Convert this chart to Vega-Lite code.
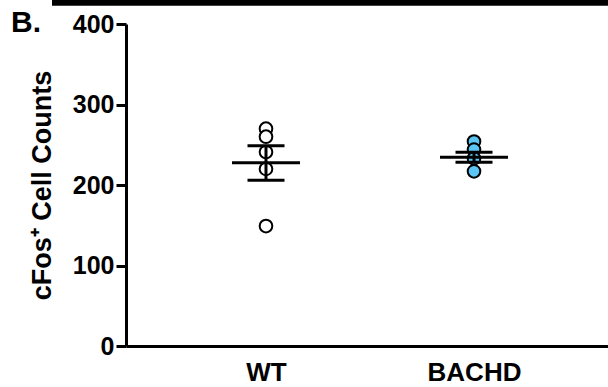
{
  "$schema": "https://vega.github.io/schema/vega-lite/v6.json",
  "width": 488,
  "height": 322,
  "autosize": "none",
  "padding": {"left": 126, "top": 24, "right": 0, "bottom": 41},
  "background": "white",
  "config": {
    "view": {"stroke": null},
    "font": "Liberation Sans",
    "axis": {
      "labelFont": "Liberation Sans",
      "titleFont": "Liberation Sans",
      "labelColor": "black",
      "titleColor": "black",
      "labelFontWeight": "bold",
      "titleFontWeight": "bold",
      "domainColor": "black",
      "domainWidth": 3,
      "tickColor": "black",
      "tickWidth": 3,
      "grid": false
    }
  },
  "title": {
    "text": "B.",
    "anchor": "start",
    "frame": "group",
    "orient": "top",
    "dx": -115,
    "dy": 29,
    "fontSize": 30,
    "fontWeight": "bold",
    "font": "Liberation Sans",
    "color": "black",
    "baseline": "alphabetic",
    "offset": -34
  },
  "datasets": {
    "points": [
      {"group": "WT", "count": 270},
      {"group": "WT", "count": 260},
      {"group": "WT", "count": 241},
      {"group": "WT", "count": 220},
      {"group": "WT", "count": 149},
      {"group": "BACHD", "count": 254},
      {"group": "BACHD", "count": 244},
      {"group": "BACHD", "count": 233},
      {"group": "BACHD", "count": 217}
    ],
    "summary": [
      {"group": "WT", "mean": 227.7, "lo": 205.8, "hi": 248.8},
      {"group": "BACHD", "mean": 234.5, "lo": 228.2, "hi": 240.6}
    ]
  },
  "encoding": {
    "x": {
      "field": "group",
      "type": "nominal",
      "sort": ["WT", "BACHD"],
      "scale": {"type": "point", "padding": 0.673},
      "axis": {
        "title": null,
        "labelAngle": 0,
        "ticks": false,
        "labelFontSize": 26,
        "labelPadding": 13
      }
    }
  },
  "layer": [
    {
      "data": {"values": [{"bar": "top"}]},
      "mark": {"type": "rule", "color": "black", "strokeWidth": 7, "clip": false},
      "encoding": {
        "x": {"value": -74},
        "x2": {"value": 490},
        "y": {"datum": 427, "type": "quantitative"}
      }
    },
    {
      "data": {"name": "points"},
      "mark": {"type": "point", "filled": true, "size": 160, "stroke": "black", "strokeWidth": 2, "opacity": 1},
      "encoding": {
        "y": {
          "field": "count",
          "type": "quantitative",
          "scale": {"domain": [0, 400]},
          "axis": {
            "values": [0, 100, 200, 300, 400],
            "title": "cFos⁺ Cell Counts",
            "titleFontSize": 27,
            "titlePadding": 16,
            "labelFontSize": 25,
            "tickSize": 10,
            "labelPadding": 2
          }
        },
        "fill": {
          "field": "group",
          "type": "nominal",
          "scale": {"domain": ["WT", "BACHD"], "range": ["white", "#5BC6F4"]},
          "legend": null
        }
      }
    },
    {
      "data": {"name": "summary"},
      "mark": {"type": "rule", "color": "black", "strokeWidth": 3},
      "encoding": {
        "y": {"field": "lo", "type": "quantitative"},
        "y2": {"field": "hi"}
      }
    },
    {
      "data": {"name": "summary"},
      "mark": {"type": "tick", "color": "black", "size": 68, "thickness": 3, "opacity": 1},
      "encoding": {"y": {"field": "mean", "type": "quantitative"}}
    },
    {
      "data": {"name": "summary"},
      "mark": {"type": "tick", "color": "black", "size": 37, "thickness": 3, "opacity": 1},
      "encoding": {"y": {"field": "lo", "type": "quantitative"}}
    },
    {
      "data": {"name": "summary"},
      "mark": {"type": "tick", "color": "black", "size": 37, "thickness": 3, "opacity": 1},
      "encoding": {"y": {"field": "hi", "type": "quantitative"}}
    }
  ]
}
